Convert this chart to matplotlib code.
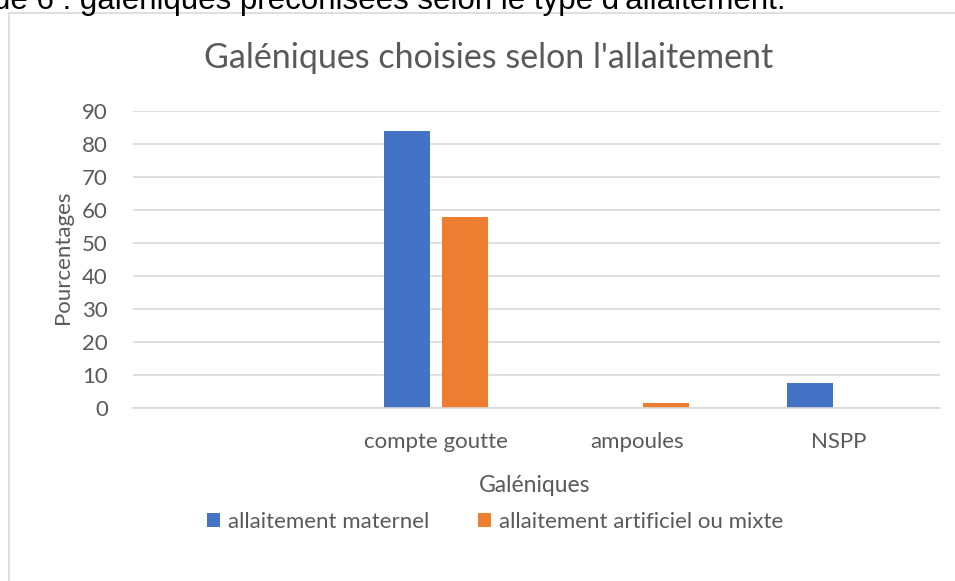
import numpy as np
import matplotlib
matplotlib.use("Agg")
import matplotlib.pyplot as plt
from matplotlib.patches import Rectangle

categories = ["", "compte goutte", "ampoules", "NSPP"]
maternel = [0, 84, 0, 7.5]
artificiel = [0, 58, 1.5, 0]
series_names = ["allaitement maternel", "allaitement artificiel ou mixte"]
yticks = [0, 10, 20, 30, 40, 50, 60, 70, 80, 90]

BLUE = "#4472C4"
ORANGE = "#ED7D31"
GREY = "#595959"
GRID = "#D9D9D9"

plt.rcParams["font.family"] = ["Lato", "DejaVu Sans"]

fig = plt.figure(figsize=(9.55, 5.81), dpi=100)

# chart frame and the cut caption above it
fig.patches.append(Rectangle((9 / 955, -0.05), 1.2, 1 - 13 / 581 + 0.05,
                             transform=fig.transFigure, fill=False,
                             edgecolor=GRID, linewidth=1.2))
fig.text(-0.007, 1 - 9 / 581, "de 6 : galéniques préconisées selon le type d'allaitement.",
         family="Liberation Sans", fontsize=22.5, color="black", va="baseline", ha="left")

ax = fig.add_axes([133 / 955, 1 - 408 / 581, (940 - 133) / 955, (408 - 111) / 581])

x = np.arange(len(categories))
w = 0.228
gap = 0.06
ax.bar(x - (w + gap) / 2, maternel, w, color=BLUE, label=series_names[0])
ax.bar(x + (w + gap) / 2, artificiel, w, color=ORANGE, label=series_names[1])

ax.set_xlim(-0.5, len(categories) - 0.5)
ax.set_ylim(0, 90)
ax.set_yticks(yticks)
ax.set_xticks(x)
ax.set_xticklabels(categories)
ax.yaxis.grid(True, color=GRID, linewidth=1.2)
ax.set_axisbelow(True)
for s in ["top", "right", "left"]:
    ax.spines[s].set_visible(False)
ax.spines["bottom"].set_color(GRID)
ax.spines["bottom"].set_linewidth(1.2)
ax.tick_params(length=0, labelsize=16, colors=GREY)
ax.tick_params(axis="x", pad=17)
ax.tick_params(axis="y", pad=18)

ax.set_ylabel("Pourcentages", fontsize=16, color=GREY, va="center")
ax.yaxis.set_label_coords((63 - 133) / 807, (408 - 257) / 297)
ax.set_xlabel("Galéniques", fontsize=16.5, color=GREY, va="center")
ax.xaxis.set_label_coords((535 - 133) / 807, -(486 - 408) / 297)

fig.text(489 / 955, 1 - 58 / 581, "Galéniques choisies selon l'allaitement",
         fontsize=24.5, color=GREY, ha="center", va="center")

fig.legend(loc="center", bbox_to_anchor=(495 / 955, 1 - 522 / 581), ncol=2,
           frameon=False, fontsize=16, labelcolor=GREY, handlelength=0.6,
           handleheight=0.6, handletextpad=0.35, columnspacing=2.2)

fig.savefig("out.png", dpi=100)
